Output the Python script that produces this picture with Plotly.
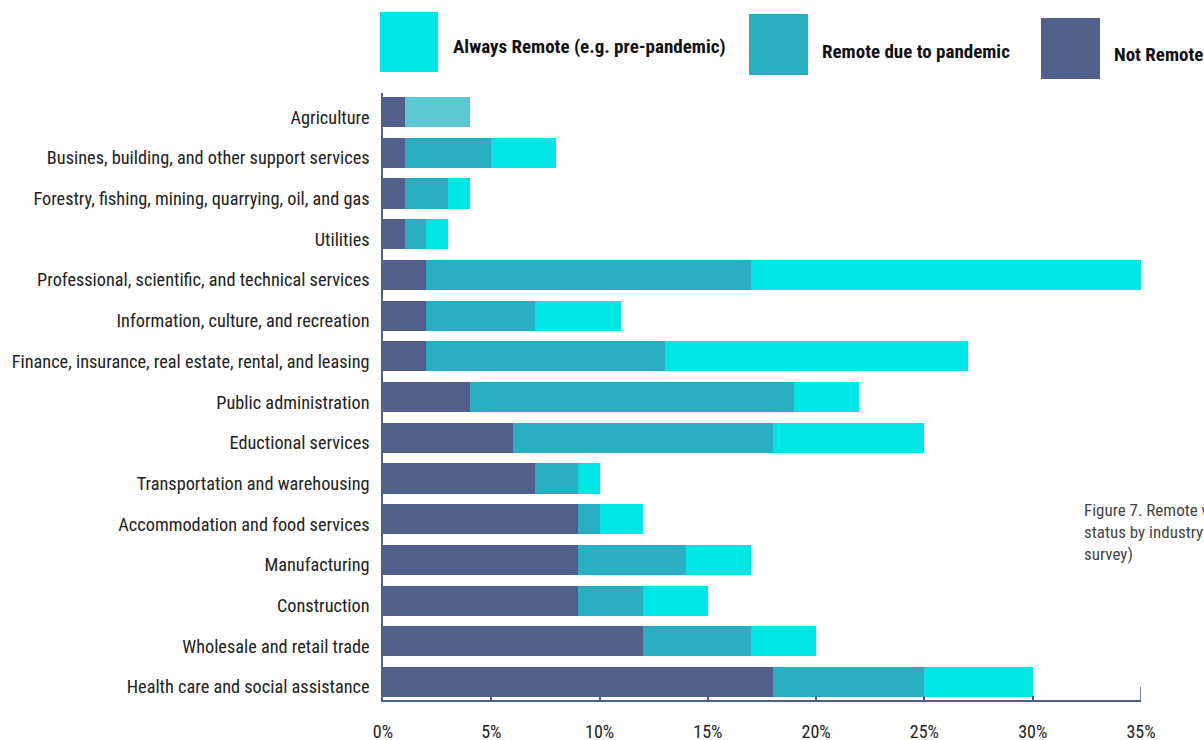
import plotly.graph_objects as go

categories = [
    "Health care and social assistance",
    "Wholesale and retail trade",
    "Construction",
    "Manufacturing",
    "Accommodation and food services",
    "Transportation and warehousing",
    "Eductional services",
    "Public administration",
    "Finance, insurance, real estate, rental, and leasing",
    "Information, culture, and recreation",
    "Professional, scientific, and technical services",
    "Utilities",
    "Forestry, fishing, mining, quarrying, oil, and gas",
    "Busines, building, and other support services",
    "Agriculture",
]
not_remote = [18, 12, 9, 9, 9, 7, 6, 4, 2, 2, 2, 1, 1, 1, 1]
remote_pandemic = [7, 5, 3, 5, 1, 2, 12, 15, 11, 5, 15, 1, 2, 4, 3]
always_remote = [5, 3, 3, 3, 2, 1, 7, 3, 14, 4, 18, 1, 1, 3, 0]
tick_vals = [0, 5, 10, 15, 20, 25, 30, 35]
tick_text = ["0%", "5%", "10%", "15%", "20%", "25%", "30%", "35%"]
series_names = ["Always Remote (e.g. pre-pandemic)", "Remote due to pandemic", "Not Remote"]

C_NOT = "#525F8A"
C_PAN = "#2AAFC2"
C_ALW = "#00E6E6"
C_AGR = "#5CC8D2"
FONT = "Roboto Condensed, Liberation Sans Narrow, Roboto, sans-serif"

pan_colors = [C_AGR if c == "Agriculture" else C_PAN for c in categories]

fig = go.Figure()
fig.add_trace(go.Bar(y=categories, x=not_remote, orientation="h", name=series_names[2],
                     marker=dict(color=C_NOT, line=dict(width=0))))
fig.add_trace(go.Bar(y=categories, x=remote_pandemic, orientation="h", name=series_names[1],
                     marker=dict(color=pan_colors, line=dict(width=0))))
fig.add_trace(go.Bar(y=categories, x=always_remote, orientation="h", name=series_names[0],
                     marker=dict(color=C_ALW, line=dict(width=0))))

fig.update_layout(
    barmode="stack",
    bargap=0.26,
    width=1204, height=740,
    margin=dict(l=383, r=63, t=93, b=40, autoexpand=False),
    plot_bgcolor="white", paper_bgcolor="white",
    showlegend=False,
    font=dict(family=FONT, size=18, color="#222222"),
    xaxis=dict(range=[0, 35], tickvals=tick_vals, ticktext=tick_text, showgrid=False,
               zeroline=False, showline=True, linecolor=C_NOT, linewidth=1.5,
               ticks="inside", ticklen=4, tickwidth=1.5, tickcolor=C_NOT,
               ticklabelstandoff=15, automargin=False,
               tickfont=dict(size=18, color="#222")),
    yaxis=dict(range=[-0.44, 14.47], showgrid=False, zeroline=False, showline=True,
               linecolor=C_NOT, linewidth=1.5, ticks="", ticklabelstandoff=8,
               ticklabelshift=5,
               automargin=False, tickfont=dict(size=18.3, color="#222")),
)

# right-end bracket tick on the x axis
fig.add_shape(type="line", xref="x", yref="paper", x0=35, x1=35, y0=0, y1=0.022,
              line=dict(color=C_NOT, width=1.5))

# custom legend with large swatches
leg = [
    (380, 438, 12, 72, 451, 47, C_ALW, series_names[0]),
    (749, 808, 14, 75, 820, 51, C_PAN, series_names[1]),
    (1041, 1100, 18, 79, 1112, 55, C_NOT, series_names[2]),
]
for x0, x1, y0, y1, tx, ty, col, name in leg:
    fig.add_shape(type="rect", xref="paper", yref="paper",
                  x0=(x0 - 383) / 758, x1=(x1 - 383) / 758,
                  y0=(700 - y1) / 607, y1=(700 - y0) / 607,
                  fillcolor=col, line=dict(width=0))
    fig.add_annotation(xref="paper", yref="paper", x=(tx - 383) / 758, y=(700 - ty) / 607,
                       text="<b>" + name + "</b>", showarrow=False, xanchor="left",
                       yanchor="middle", font=dict(family=FONT, size=19, color="#111"))

fig.add_annotation(xref="paper", yref="paper", x=(1082 - 383) / 758, y=(700 - 498) / 607,
                   text="Figure 7. Remote work<br>status by industry (2020<br>survey)",
                   showarrow=False, xanchor="left", yanchor="top", align="left",
                   font=dict(family=FONT, size=17, color="#444444"))

fig.write_html("out.html", config={"displayModeBar": False},
               post_script="document.body.style.margin='0';document.body.style.overflow='hidden';")
